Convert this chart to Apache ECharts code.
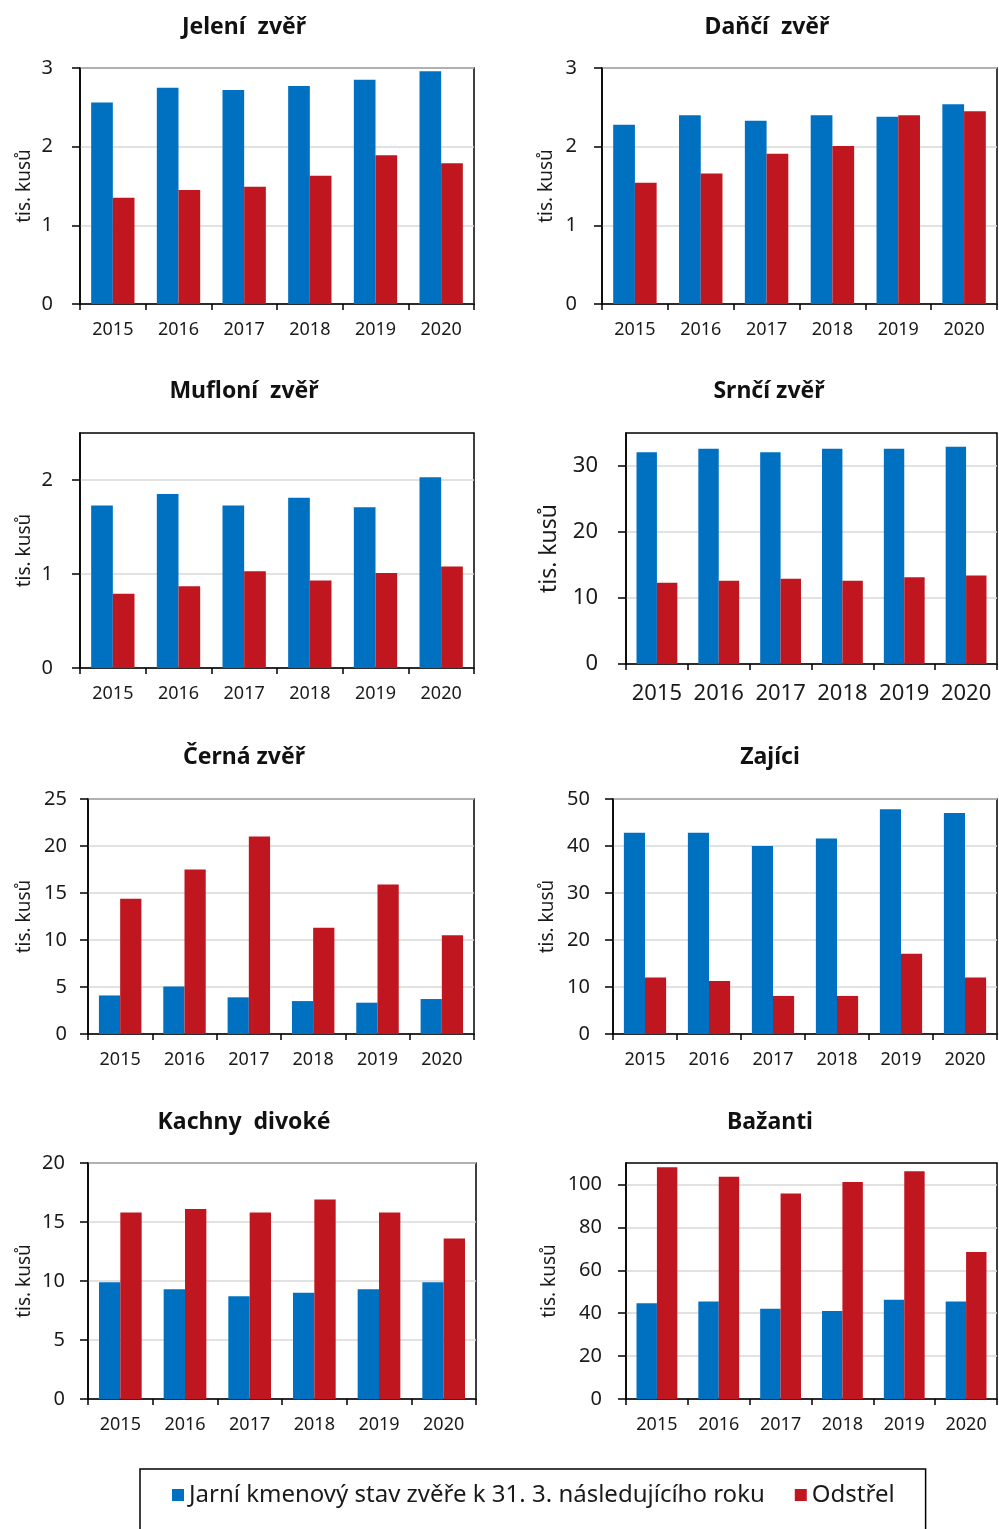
<!DOCTYPE html>
<html><head><meta charset="utf-8">
<script src="https://cdn.jsdelivr.net/npm/echarts@6/dist/echarts.min.js"></script>
<style>html,body{margin:0;padding:0;background:#fff}#c{width:999px;height:1529px}</style>
</head><body><div id="c"></div>
<script>
const years = ['2015', '2016', '2017', '2018', '2019', '2020'];
const seriesNames = ['Jarní kmenový stav zvěře k 31. 3. následujícího roku', 'Odstřel'];
const titles = ['Jelení  zvěř', 'Daňčí  zvěř', 'Mufloní  zvěř', 'Srnčí zvěř', 'Černá zvěř', 'Zajíci', 'Kachny  divoké', 'Bažanti'];
const axisName = 'tis. kusů';

const jeleniStav = [2.56, 2.75, 2.72, 2.77, 2.85, 2.96];
const jeleniOdstrel = [1.35, 1.45, 1.49, 1.63, 1.89, 1.79];
const danciStav = [2.28, 2.40, 2.33, 2.40, 2.38, 2.54];
const danciOdstrel = [1.54, 1.66, 1.91, 2.01, 2.40, 2.45];
const mufloniStav = [1.73, 1.85, 1.73, 1.81, 1.71, 2.03];
const mufloniOdstrel = [0.79, 0.87, 1.03, 0.93, 1.01, 1.08];
const srnciStav = [32.1, 32.6, 32.1, 32.6, 32.6, 32.9];
const srnciOdstrel = [12.3, 12.6, 12.9, 12.6, 13.15, 13.4];
const cernaStav = [4.1, 5.06, 3.9, 3.5, 3.33, 3.72];
const cernaOdstrel = [14.4, 17.5, 21.0, 11.3, 15.9, 10.5];
const zajiciStav = [42.8, 42.8, 40.0, 41.6, 47.8, 47.0];
const zajiciOdstrel = [12.0, 11.3, 8.1, 8.1, 17.1, 12.0];
const kachnyStav = [9.9, 9.3, 8.7, 9.0, 9.3, 9.9];
const kachnyOdstrel = [15.8, 16.1, 15.8, 16.9, 15.8, 13.6];
const bazantiStav = [44.6, 45.5, 42.1, 41.0, 46.3, 45.5];
const bazantiOdstrel = [108, 103.6, 95.8, 101.1, 106.2, 68.5];

const yMax = [3, 3, 2.5, 35, 25, 50, 20, 110];
const yInterval = [1, 1, 1, 10, 5, 10, 5, 20];
const yTicks = [
  [0, 1, 2, 3], [0, 1, 2, 3], [0, 1, 2], [0, 10, 20, 30],
  [0, 5, 10, 15, 20, 25], [0, 10, 20, 30, 40, 50], [0, 5, 10, 15, 20], [0, 20, 40, 60, 80, 100]
];
const stavData = [jeleniStav, danciStav, mufloniStav, srnciStav, cernaStav, zajiciStav, kachnyStav, bazantiStav];
const odstrelData = [jeleniOdstrel, danciOdstrel, mufloniOdstrel, srnciOdstrel, cernaOdstrel, zajiciOdstrel, kachnyOdstrel, bazantiOdstrel];

// layout (positions / sizes)
const layout = [
  {left: 80,  top: 68,   width: 394, height: 236, tx: 239, ty: 11,   gap: 46, ym: 27, xm: 17, xfs: 18, yfs: 20, nfs: 19},
  {left: 602, top: 68,   width: 395, height: 236, tx: 762, ty: 11,   gap: 46, ym: 25, xm: 17, xfs: 18, yfs: 20, nfs: 19},
  {left: 80,  top: 433,  width: 394, height: 235, tx: 239, ty: 375,  gap: 46, ym: 27, xm: 17, xfs: 18, yfs: 20, nfs: 19},
  {left: 626, top: 433,  width: 371, height: 231, tx: 764, ty: 375,  gap: 65, ym: 28, xm: 19, xfs: 22, yfs: 22, nfs: 23},
  {left: 88,  top: 799,  width: 386, height: 235, tx: 239, ty: 741,  gap: 54, ym: 21, xm: 17, xfs: 18, yfs: 20, nfs: 19},
  {left: 613, top: 799,  width: 384, height: 235, tx: 765, ty: 741,  gap: 56, ym: 23, xm: 17, xfs: 18, yfs: 20, nfs: 19},
  {left: 88,  top: 1163, width: 388, height: 236, tx: 239, ty: 1106, gap: 54, ym: 23, xm: 17, xfs: 18, yfs: 20, nfs: 19},
  {left: 626, top: 1163, width: 371, height: 236, tx: 765, ty: 1106, gap: 67, ym: 24, xm: 17, xfs: 18, yfs: 20, nfs: 19}
];

const FONT = 'Noto Sans';
const TXT = '#1a1a1a';
const BLUE = '#0070c0';
const RED = '#c0161f';

const grid = [], xAxis = [], yAxis = [], series = [], title = [];
layout.forEach((L, i) => {
  grid.push({left: L.left, top: L.top, width: L.width, height: L.height, show: true,
    borderColor: '#000', borderWidth: 1.5, backgroundColor: 'transparent', containLabel: false});
  title.push({text: titles[i], left: L.tx, top: L.ty, textAlign: 'center',
    textStyle: {fontFamily: FONT, fontWeight: 'bold', fontSize: 23, color: '#111'}});
  xAxis.push({type: 'category', gridIndex: i, data: years,
    axisLine: {lineStyle: {color: '#000', width: 1.5}},
    axisTick: {show: true, length: 6, lineStyle: {color: '#000', width: 1.5}},
    axisLabel: {fontFamily: FONT, fontSize: L.xfs, color: TXT, margin: L.xm, interval: 0},
    splitLine: {show: false}});
  yAxis.push({type: 'value', gridIndex: i, min: 0, max: yMax[i], interval: yInterval[i],
    name: axisName, nameLocation: 'middle', nameGap: L.gap,
    nameTextStyle: {fontFamily: FONT, fontSize: L.nfs, color: TXT},
    axisLine: {show: true, lineStyle: {color: '#000', width: 1.5}},
    axisTick: {show: true, length: 8, customValues: yTicks[i], lineStyle: {color: '#000', width: 1.5}},
    axisLabel: {fontFamily: FONT, fontSize: L.yfs, color: TXT, margin: L.ym, customValues: yTicks[i]},
    splitLine: {show: true, lineStyle: {color: '#d9d9d9', width: 1.5}}});
  series.push({name: seriesNames[0], type: 'bar', xAxisIndex: i, yAxisIndex: i, data: stavData[i],
    itemStyle: {color: BLUE}, barGap: '0%', barCategoryGap: '34%', animation: false});
  series.push({name: seriesNames[1], type: 'bar', xAxisIndex: i, yAxisIndex: i, data: odstrelData[i],
    itemStyle: {color: RED}, barGap: '0%', barCategoryGap: '34%', animation: false});
});

const chart = echarts.init(document.getElementById('c'), null, {renderer: 'canvas'});
chart.setOption({
  animation: false,
  backgroundColor: '#fff',
  title: title,
  grid: grid, xAxis: xAxis, yAxis: yAxis, series: series,
  legend: {
    data: seriesNames, left: 140, top: 1469, orient: 'horizontal',
    icon: 'rect', itemWidth: 12, itemHeight: 12, itemGap: 30,
    padding: [14, 31, 60, 32],
    borderColor: '#000', borderWidth: 1.5,
    textStyle: {fontFamily: FONT, fontSize: 24, color: TXT}
  }
});
</script></body></html>
